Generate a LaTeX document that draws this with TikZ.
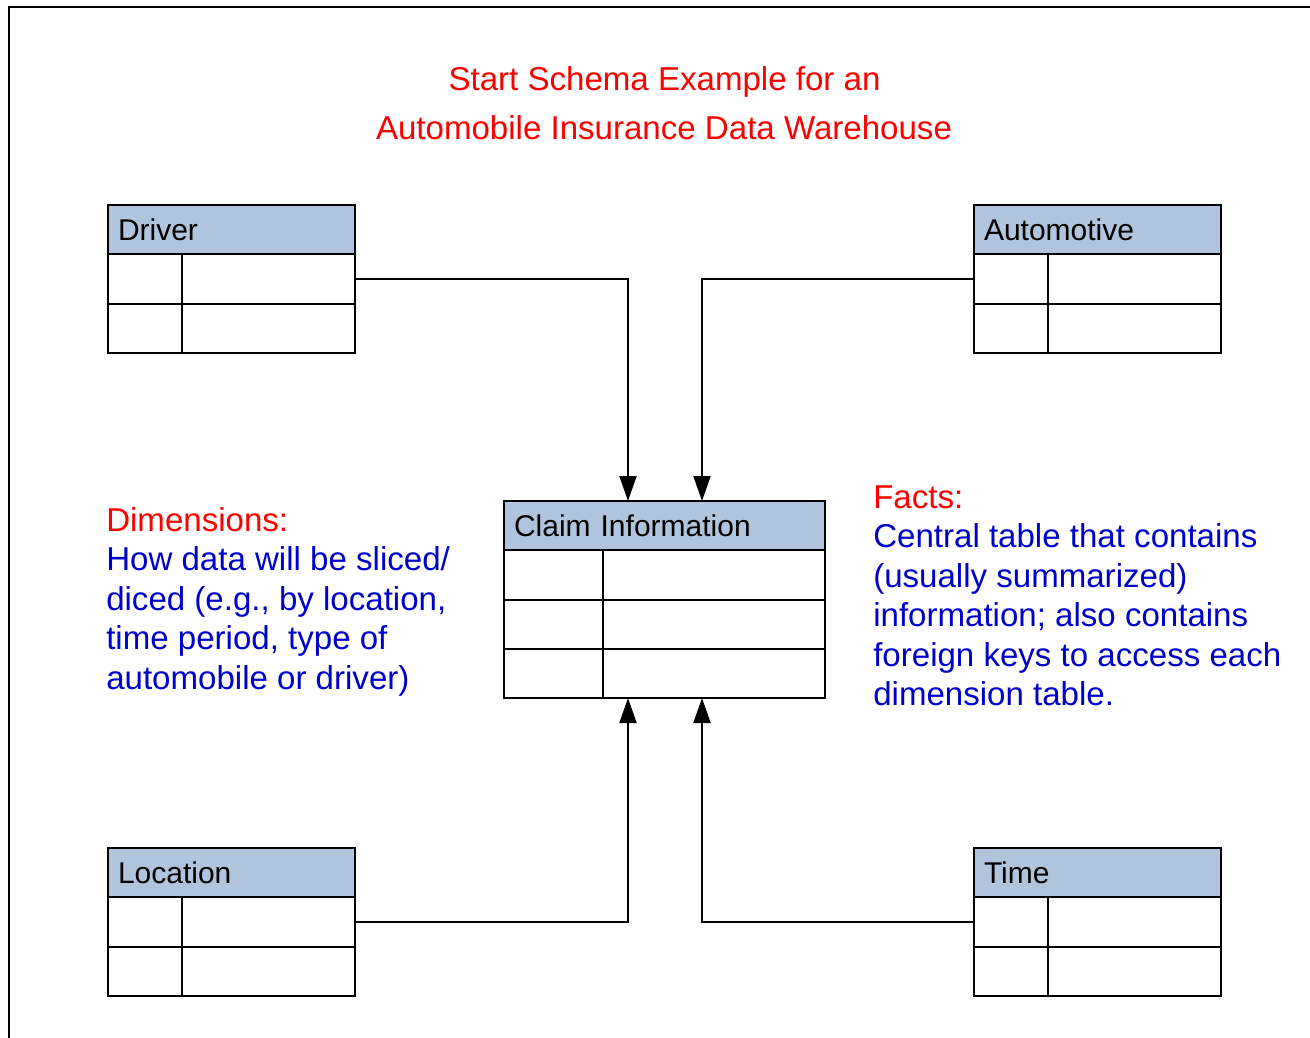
\documentclass[tikz,border=0pt]{standalone}
\usepackage{fontspec}
\setmainfont{Liberation Sans}
\usetikzlibrary{arrows.meta,calc}
\definecolor{hdrblue}{HTML}{B0C4DE}
\definecolor{txtblue}{HTML}{0000CC}
\definecolor{txtred}{HTML}{FF0000}
\tikzset{
  hdr/.style={draw=black, fill=hdrblue, line width=1.5pt, inner xsep=7.5pt, inner ysep=0pt, outer sep=0pt,
    minimum height=36.94pt, align=left, font=\fontsize{22.5}{27}\selectfont, text=black},
  cell/.style={draw=black, fill=white, line width=1.5pt, inner sep=0pt, outer sep=0pt, minimum height=36.94pt},
  conn/.style={line width=1.5pt, -{Triangle[length=18.75pt,width=12.75pt]}},
  ttl/.style={inner sep=0pt, text=txtred, font=\fontsize{24.8}{29.8}\selectfont},
  para/.style={inner sep=0pt, align=left, text=txtblue, font=\fontsize{24.8}{29.6}\selectfont},
}
% name, x, y, width, divider, rows, title
\newcommand\startable[7]{%
  \node[hdr, minimum width={#4*0.75pt}, text width={#4*0.75pt-15pt}, anchor=north west] (#1) at (#2,#3) {#7};
  \foreach \i in {1,...,#6}{
    \node[cell, minimum width={#5*0.75pt}, anchor=north west] (#1-l-\i) at (#2, #3+49.25*\i) {};
    \node[cell, minimum width={(#4-#5)*0.75pt}, anchor=north west] (#1-r-\i) at (#2+#5, #3+49.25*\i) {};
  }%
}
\begin{document}
\begin{tikzpicture}[x=0.75pt,y=-0.75pt]
\useasboundingbox (0,0) rectangle (1310,1038);
% frame
\draw[line width=1.5pt] (9.3,1045) -- (9.3,7) -- (1320,7);
% title
\node[ttl, anchor=base] (t1) at (664.5,91) {Start Schema Example for an};
\node[ttl, anchor=base] (t2) at (664,140) {Automobile Insurance Data Warehouse};
% tables
\startable{drv}{108}{205}{247}{74}{2}{Driver}
\startable{aut}{974}{205}{247}{74}{2}{Automotive}
\startable{loc}{108}{848}{247}{74}{2}{Location}
\startable{tim}{974}{848}{247}{74}{2}{Time}
\startable{clm}{504}{501}{321}{99}{3}{Claim Information}
% connector end points on the fact table
\coordinate (inA) at (628,501);
\coordinate (inB) at (702,501);
\coordinate (inC) at (628,698);
\coordinate (inD) at (702,698);
\draw[conn] (drv-r-1.east) -| (inA);
\draw[conn] (aut-l-1.west) -| (inB);
\draw[conn] (loc-r-1.east) -| (inC);
\draw[conn] (tim-l-1.west) -| (inD);
% texts (base anchor = baseline of the last line)
\node[para, anchor=base west] (dims) at (106,689) {\textcolor{txtred}{Dimensions:}\\How data will be sliced/\\diced (e.g., by location,\\time period, type of\\automobile or driver)};
\node[para, anchor=base west] (facts) at (873,705.5) {\textcolor{txtred}{Facts:}\\Central table that contains\\(usually summarized)\\information; also contains\\foreign keys to access each\\dimension table.};
\end{tikzpicture}
\end{document}
